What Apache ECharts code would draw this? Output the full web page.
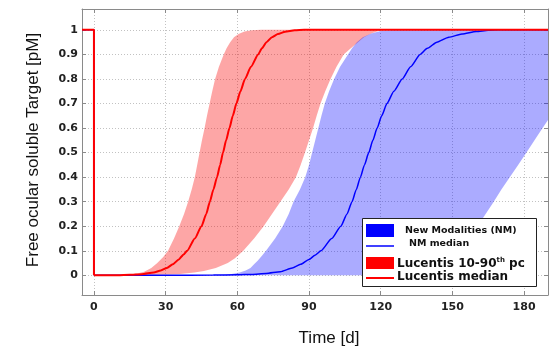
<!DOCTYPE html>
<html><head><meta charset="utf-8">
<script src="https://cdn.jsdelivr.net/npm/echarts@6.0.0/dist/echarts.min.js"></script>
<style>html,body{margin:0;padding:0;background:#fff}#c{width:553px;height:349px}</style>
</head><body><div id="c"></div>
<script>
// ticks
const xTicks = [0, 30, 60, 90, 120, 150, 180];
const yTicks = [0, 0.1, 0.2, 0.3, 0.4, 0.5, 0.6, 0.7, 0.8, 0.9, 1];
const yTickLabels = ['0', '0.1', '0.2', '0.3', '0.4', '0.5', '0.6', '0.7', '0.8', '0.9', '1'];

// baseline step before dosing (both medians start at 1 and drop at t=0)
const stepT = [-5, 0, 0];
const stepV = [1, 1, 0];

// Lucentis median
const redMedianT = [0, 10, 15, 20, 25, 28, 30.5, 33, 35.5, 37.5, 39, 42.2, 45, 47, 48.5, 50, 51.5, 52.8, 54, 55.3, 56.7, 58.1, 59.6, 61.3, 63.2, 65.7, 68.7, 70.3, 72.2, 74.5, 77, 80, 84, 88, 190];
const redMedianV = [0, 0, 0.002, 0.005, 0.012, 0.02, 0.03, 0.045, 0.065, 0.085, 0.1, 0.15, 0.2, 0.25, 0.3, 0.35, 0.4, 0.45, 0.5, 0.55, 0.6, 0.65, 0.7, 0.75, 0.8, 0.85, 0.9, 0.925, 0.95, 0.97, 0.983, 0.992, 0.998, 1, 1];

// NM median
const blueMedianT = [0, 30, 50, 60, 66, 72, 78, 83, 86.5, 90, 92.5, 95, 99.5, 103.3, 105.9, 108, 109.8, 111.5, 113.2, 115, 116.7, 118.5, 120.4, 122.6, 125.5, 129, 132.5, 136.5, 139.5, 143.5, 148.5, 154, 160, 165, 170, 190];
const blueMedianV = [0, 0, 0.001, 0.002, 0.004, 0.008, 0.015, 0.03, 0.045, 0.065, 0.082, 0.1, 0.15, 0.2, 0.25, 0.3, 0.35, 0.4, 0.45, 0.5, 0.55, 0.6, 0.65, 0.7, 0.75, 0.8, 0.85, 0.9, 0.925, 0.95, 0.97, 0.983, 0.993, 0.998, 1, 1];

// Lucentis 10-90th pc band: early edge (ascending), late edge (descending)
const redEarlyT = [10, 14, 18, 21, 24, 26.5, 29, 31, 33.5, 35.7, 37.7, 39.4, 40.9, 42.2, 43.2, 44.2, 45.2, 46.3, 47.3, 48.4, 49.5, 50.7, 52.3, 54.3, 55.5, 57, 58.6, 60.5, 63, 66, 70];
const redEarlyV = [0, 0.003, 0.008, 0.015, 0.03, 0.05, 0.075, 0.1, 0.15, 0.2, 0.25, 0.3, 0.35, 0.4, 0.45, 0.5, 0.55, 0.6, 0.65, 0.7, 0.75, 0.8, 0.85, 0.9, 0.925, 0.95, 0.97, 0.983, 0.993, 0.998, 1];
const redLateT = [125, 119, 116, 113, 110.5, 107.5, 104.5, 101.5, 99, 96.8, 94.8, 93.2, 91.7, 90, 88.3, 86.5, 84.5, 81.5, 78, 74.5, 71, 67, 62.5, 59, 56, 51, 46, 42, 36, 30, 18];
const redLateV = [1, 0.995, 0.985, 0.97, 0.95, 0.925, 0.9, 0.85, 0.8, 0.75, 0.7, 0.65, 0.6, 0.55, 0.5, 0.45, 0.4, 0.35, 0.3, 0.25, 0.2, 0.15, 0.1, 0.07, 0.05, 0.03, 0.018, 0.012, 0.006, 0.003, 0];

// New Modalities band
const blueEarlyT = [50, 54, 57, 61, 63.5, 65.5, 67, 68.5, 70.3, 72, 75.8, 79, 81.5, 83.5, 86.2, 88.4, 90, 91.3, 92.6, 93.9, 95.2, 96.6, 98.4, 100.5, 103, 106.3, 108, 110, 112.5, 116, 120, 126];
const blueEarlyV = [0, 0.002, 0.005, 0.012, 0.02, 0.03, 0.045, 0.06, 0.08, 0.1, 0.15, 0.2, 0.25, 0.3, 0.35, 0.4, 0.45, 0.5, 0.55, 0.6, 0.65, 0.7, 0.75, 0.8, 0.85, 0.9, 0.925, 0.95, 0.97, 0.985, 0.995, 1];
const blueLateT = [190, 190, 186, 181, 177.5, 174, 170.5, 167.3, 163, 158, 153, 150, 147, 143, 139, 133, 125];
const blueLateV = [1, 0.633, 0.575, 0.5, 0.45, 0.4, 0.35, 0.3, 0.237, 0.17, 0.1, 0.065, 0.04, 0.02, 0.008, 0.002, 0];

function zip(t, v) { return t.map((x, i) => [x, v[i]]); }

function band(upT, upV, loT, loV, color, z) {
  return {
    type: 'custom', data: [[0, 0]], silent: true, z: z, clip: true,
    renderItem: function (params, api) {
      const pts = [];
      upT.forEach((t, i) => pts.push(api.coord([t, upV[i]])));
      loT.forEach((t, i) => pts.push(api.coord([t, loV[i]])));
      return { type: 'polygon', shape: { points: pts }, style: { fill: color } };
    }
  };
}

const frameColor = '#8a8a8a';
const lblStyle = { fontFamily: 'DejaVu Sans', fontWeight: 'bold', fontSize: 11, color: '#222' };
const gridLine = { show: true, lineStyle: { color: '#c2c2c2', width: 1, type: [1, 2] } };

const chart = echarts.init(document.getElementById('c'), null, { renderer: 'canvas' });
chart.setOption({
  animation: false,
  grid: { left: 82, right: 5, top: 9, bottom: 54, containLabel: false },
  xAxis: [
    { type: 'value', min: -5, max: 190, position: 'bottom',
      axisLine: { show: true, onZero: false, lineStyle: { color: frameColor, width: 1 } },
      axisTick: { show: true, inside: true, length: 4, customValues: xTicks, lineStyle: { color: frameColor } },
      axisLabel: Object.assign({ customValues: xTicks, margin: 7 }, lblStyle),
      splitLine: gridLine },
    { type: 'value', min: -5, max: 190, position: 'top',
      axisLine: { show: true, onZero: false, lineStyle: { color: frameColor, width: 1 } },
      axisTick: { show: true, inside: true, length: 4, customValues: xTicks, lineStyle: { color: frameColor } },
      axisLabel: { show: false }, splitLine: { show: false } }
  ],
  yAxis: [
    { type: 'value', min: -0.08, max: 1.085, position: 'left',
      axisLine: { show: true, onZero: false, lineStyle: { color: frameColor, width: 1 } },
      axisTick: { show: true, inside: true, length: 4, customValues: yTicks, lineStyle: { color: frameColor } },
      axisLabel: Object.assign({ customValues: yTicks, margin: 4,
        formatter: function (v) { const i = yTicks.findIndex(y => Math.abs(y - v) < 1e-9); return i >= 0 ? yTickLabels[i] : ''; } }, lblStyle),
      splitLine: gridLine },
    { type: 'value', min: -0.08, max: 1.085, position: 'right',
      axisLine: { show: true, onZero: false, lineStyle: { color: frameColor, width: 1 } },
      axisTick: { show: true, inside: true, length: 4, customValues: yTicks, lineStyle: { color: frameColor } },
      axisLabel: { show: false }, splitLine: { show: false } }
  ],
  series: [
    band(redEarlyT, redEarlyV, redLateT, redLateV, 'rgba(250,0,0,0.35)', 1),
    band(blueEarlyT, blueEarlyV, blueLateT, blueLateV, 'rgba(0,0,255,0.33)', 2),
    { type: 'line', data: zip(stepT, stepV), symbol: 'none', z: 3, silent: true,
      lineStyle: { color: '#0000ff', width: 1.5 } },
    { type: 'line', data: zip(blueMedianT, blueMedianV), symbol: 'none', z: 3, silent: true,
      smooth: 0.2, smoothMonotone: 'x', lineStyle: { color: '#0000ff', width: 1.5 } },
    { type: 'line', data: zip(stepT, stepV), symbol: 'none', z: 4, silent: true,
      lineStyle: { color: '#ff0000', width: 2 } },
    { type: 'line', data: zip(redMedianT, redMedianV), symbol: 'none', z: 4, silent: true,
      smooth: 0.2, smoothMonotone: 'x', lineStyle: { color: '#ff0000', width: 2 } }
  ],
  graphic: [
    { type: 'text', x: 33, y: 150, rotation: Math.PI / 2, z: 10,
      style: { text: 'Free ocular soluble Target [pM]', font: '17px "Liberation Sans", Arial, sans-serif', fill: '#111', align: 'center', verticalAlign: 'middle' } },
    { type: 'text', x: 329, y: 338, z: 10,
      style: { text: 'Time [d]', font: '17px "Liberation Sans", Arial, sans-serif', fill: '#111', align: 'center', verticalAlign: 'middle' } },
    { type: 'rect', z: 20, shape: { x: 362.5, y: 218.5, width: 174, height: 68 }, style: { fill: '#fff', stroke: '#222', lineWidth: 1 } },
    { type: 'rect', z: 21, shape: { x: 366, y: 224, width: 28, height: 13 }, style: { fill: '#0000ff' } },
    { type: 'line', z: 21, shape: { x1: 366, y1: 246, x2: 394, y2: 246 }, style: { stroke: '#0000ff', lineWidth: 1.5 } },
    { type: 'rect', z: 21, shape: { x: 366, y: 257, width: 28, height: 12 }, style: { fill: '#ff0000' } },
    { type: 'line', z: 21, shape: { x1: 366, y1: 278, x2: 394, y2: 278 }, style: { stroke: '#ff0000', lineWidth: 2 } },
    { type: 'text', z: 21, x: 405, y: 231, style: { text: 'New Modalities (NM)', font: 'bold 9.5px "DejaVu Sans"', fill: '#111', verticalAlign: 'middle' } },
    { type: 'text', z: 21, x: 409, y: 244, style: { text: 'NM median', font: 'bold 9.5px "DejaVu Sans"', fill: '#111', verticalAlign: 'middle' } },
    { type: 'text', z: 21, x: 397, y: 264, style: { text: 'Lucentis 10-90{sup|th} pc', font: 'bold 12px "DejaVu Sans"', fill: '#111', verticalAlign: 'middle',
        rich: { sup: { fontFamily: 'DejaVu Sans', fontWeight: 'bold', fontSize: 7, fill: '#111', verticalAlign: 'top', padding: [0, 0, 7, 0] } } } },
    { type: 'text', z: 21, x: 397, y: 277, style: { text: 'Lucentis median', font: 'bold 12px "DejaVu Sans"', fill: '#111', verticalAlign: 'middle' } }
  ]
});
</script>
</body></html>
